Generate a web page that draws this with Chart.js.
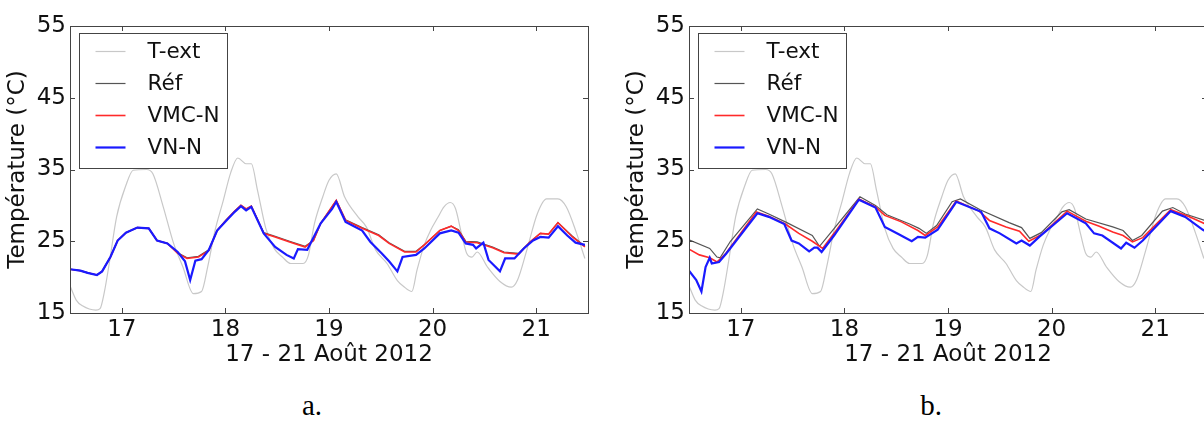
<!DOCTYPE html>
<html>
<head>
<meta charset="utf-8">
<script src="https://cdn.jsdelivr.net/npm/chart.js@4.4.0/dist/chart.umd.min.js"></script>
<style>
  html, body { margin: 0; padding: 0; background: #fff; overflow: hidden; }
  body { width: 1204px; height: 422px; position: relative; }
  .panel { position: absolute; top: 0; width: 600px; height: 370px; }
  .tag { position: absolute; top: 391px; width: 40px; text-align: center;
         font-family: "Liberation Serif", "DejaVu Serif", serif; font-size: 29px; line-height: 28px; color: #000; }
</style>
</head>
<body>
<div class="panel" style="left:0px"><canvas id="chartA" width="600" height="370"></canvas></div>
<div class="panel" style="left:619px"><canvas id="chartB" width="600" height="370"></canvas></div>
<div class="tag" style="left:292px">a.</div>
<div class="tag" style="left:911px">b.</div>
<script>
// axes
const xTicks = [17, 18, 19, 20, 21];
const yTicks = [15, 25, 35, 45, 55];

// outdoor temperature (same in both panels)
const extDays = [16.5, 16.56, 16.62, 16.75, 16.79, 16.83, 16.88, 16.95, 17.04, 17.11, 17.24, 17.3, 17.4, 17.5, 17.59, 17.69, 17.77, 17.83, 17.9, 17.98, 18.05, 18.12, 18.2, 18.25, 18.31, 18.39, 18.47, 18.55, 18.63, 18.75, 18.8, 18.86, 18.94, 19.0, 19.07, 19.15, 19.28, 19.36, 19.45, 19.56, 19.66, 19.72, 19.8, 19.85, 19.92, 19.98, 20.05, 20.11, 20.17, 20.22, 20.28, 20.33, 20.38, 20.43, 20.53, 20.65, 20.76, 20.82, 20.91, 21.01, 21.1, 21.21, 21.29, 21.39, 21.47];
const extTemps = [18.8, 16.8, 16.0, 15.4, 15.6, 17.8, 22.0, 28.4, 32.8, 34.9, 35.0, 34.4, 29.8, 24.7, 21.4, 17.7, 18.0, 21.5, 26.5, 30.7, 34.5, 36.6, 35.8, 35.8, 32.1, 26.8, 24.0, 22.8, 21.9, 21.9, 23.0, 27.5, 31.2, 33.5, 34.4, 31.2, 28.4, 27.0, 23.8, 21.9, 19.5, 18.7, 18.0, 21.0, 24.5, 26.5, 28.3, 29.8, 30.4, 29.6, 26.0, 23.3, 22.8, 23.5, 21.4, 19.4, 18.6, 19.6, 23.8, 28.8, 30.9, 30.9, 29.8, 26.1, 22.6];

// panel a
const refDaysA = [16.5, 16.6, 16.67, 16.76, 16.81, 16.89, 16.96, 17.04, 17.15, 17.26, 17.34, 17.44, 17.54, 17.63, 17.74, 17.84, 17.92, 18.01, 18.09, 18.15, 18.2, 18.25, 18.37, 18.48, 18.62, 18.77, 18.85, 18.92, 19.07, 19.16, 19.32, 19.48, 19.58, 19.73, 19.84, 19.92, 20.07, 20.18, 20.25, 20.32, 20.43, 20.58, 20.69, 20.83, 20.94, 21.04, 21.12, 21.21, 21.35, 21.47];
const refTempsA = [21.1, 20.9, 20.6, 20.3, 20.8, 22.8, 25.1, 26.2, 26.9, 26.8, 25.1, 24.7, 23.4, 22.7, 22.9, 23.8, 26.5, 28.0, 29.2, 30.0, 29.5, 29.9, 26.2, 25.7, 25.0, 24.3, 25.1, 27.5, 30.7, 28.0, 26.9, 25.9, 24.8, 23.6, 23.6, 24.5, 26.5, 27.1, 26.6, 25.0, 24.9, 24.2, 23.5, 23.3, 24.9, 26.1, 26.0, 27.6, 25.7, 24.3];
const vmcDaysA = [16.5, 16.6, 16.67, 16.76, 16.81, 16.89, 16.96, 17.04, 17.15, 17.26, 17.34, 17.44, 17.54, 17.63, 17.74, 17.84, 17.92, 18.01, 18.09, 18.15, 18.2, 18.25, 18.37, 18.48, 18.62, 18.77, 18.85, 18.92, 19.07, 19.16, 19.32, 19.48, 19.58, 19.73, 19.84, 19.92, 20.07, 20.18, 20.25, 20.32, 20.43, 20.58, 20.69, 20.83, 20.94, 21.04, 21.12, 21.21, 21.35, 21.47];
const vmcTempsA = [21.1, 20.9, 20.6, 20.3, 20.8, 22.8, 25.1, 26.2, 26.9, 26.8, 25.1, 24.7, 23.3, 22.6, 22.8, 23.7, 26.5, 28.0, 29.2, 30.0, 29.5, 29.9, 26.1, 25.6, 24.9, 24.2, 25.1, 27.5, 30.7, 27.9, 26.8, 25.8, 24.7, 23.5, 23.5, 24.5, 26.5, 27.1, 26.5, 24.9, 24.8, 24.1, 23.4, 23.2, 24.9, 26.1, 26.0, 27.6, 25.6, 24.2];
const vnDaysA = [16.5, 16.6, 16.67, 16.76, 16.81, 16.89, 16.96, 17.04, 17.15, 17.26, 17.34, 17.44, 17.54, 17.61, 17.66, 17.71, 17.77, 17.84, 17.92, 18.01, 18.09, 18.15, 18.2, 18.25, 18.37, 18.48, 18.59, 18.66, 18.7, 18.79, 18.92, 19.03, 19.07, 19.16, 19.32, 19.4, 19.51, 19.58, 19.66, 19.71, 19.84, 19.92, 20.07, 20.18, 20.25, 20.32, 20.39, 20.42, 20.49, 20.54, 20.65, 20.7, 20.79, 20.88, 20.97, 21.04, 21.12, 21.21, 21.3, 21.38, 21.47];
const vnTempsA = [21.1, 20.9, 20.6, 20.3, 20.8, 22.8, 25.1, 26.2, 26.9, 26.8, 25.1, 24.7, 23.5, 22.2, 19.6, 22.3, 22.5, 23.8, 26.5, 27.9, 29.1, 29.9, 29.3, 29.8, 26.1, 24.2, 23.1, 22.6, 23.9, 23.8, 27.5, 29.5, 30.5, 27.7, 26.5, 24.9, 23.3, 22.2, 20.8, 22.8, 23.1, 24.0, 26.1, 26.5, 26.2, 24.7, 24.5, 24.0, 24.8, 22.4, 20.8, 22.6, 22.6, 24.0, 25.1, 25.6, 25.5, 27.1, 25.8, 24.8, 24.5];

// panel b
const refDaysB = [16.5, 16.7, 16.77, 16.8, 16.9, 17.16, 17.27, 17.43, 17.69, 17.76, 17.89, 18.15, 18.3, 18.41, 18.63, 18.72, 18.79, 18.89, 19.04, 19.12, 19.31, 19.59, 19.71, 19.79, 19.9, 20.1, 20.17, 20.33, 20.59, 20.69, 20.78, 20.87, 21.07, 21.17, 21.29, 21.5];
const refTempsB = [25.2, 24.0, 22.8, 22.7, 25.0, 29.5, 28.8, 27.7, 25.8, 24.3, 26.6, 31.2, 30.0, 28.7, 27.4, 26.8, 26.1, 27.2, 30.5, 30.9, 29.4, 27.6, 26.9, 25.4, 26.2, 29.1, 29.4, 28.1, 27.0, 26.5, 25.1, 25.8, 29.2, 29.7, 28.8, 27.8];
const vmcDaysB = [16.5, 16.6, 16.7, 16.77, 16.85, 17.15, 17.27, 17.43, 17.56, 17.69, 17.79, 17.9, 18.14, 18.3, 18.39, 18.55, 18.71, 18.78, 18.9, 19.08, 19.3, 19.4, 19.56, 19.69, 19.78, 19.9, 20.15, 20.33, 20.46, 20.59, 20.69, 20.78, 20.88, 21.15, 21.33, 21.5];
const vmcTempsB = [23.9, 23.1, 22.7, 22.1, 23.2, 29.1, 28.5, 27.4, 26.1, 25.0, 24.0, 26.1, 30.9, 29.8, 28.6, 27.7, 26.5, 25.8, 27.0, 30.6, 29.2, 27.9, 27.0, 26.4, 25.0, 25.9, 29.2, 27.8, 27.1, 26.3, 25.8, 24.9, 25.5, 29.4, 28.4, 27.3];
const vnDaysB = [16.5, 16.57, 16.62, 16.66, 16.7, 16.72, 16.79, 16.86, 17.16, 17.27, 17.42, 17.49, 17.56, 17.66, 17.71, 17.74, 17.78, 17.9, 18.14, 18.3, 18.39, 18.52, 18.65, 18.71, 18.78, 18.9, 19.08, 19.32, 19.4, 19.5, 19.66, 19.71, 19.79, 19.88, 20.15, 20.33, 20.41, 20.49, 20.67, 20.72, 20.8, 20.88, 21.15, 21.29, 21.46, 21.5];
const vnTempsB = [20.9, 19.6, 18.0, 21.4, 22.7, 21.9, 22.1, 23.3, 28.9, 28.4, 27.4, 25.1, 24.7, 23.6, 24.1, 24.1, 23.5, 25.8, 30.8, 29.7, 27.0, 26.0, 25.0, 25.6, 25.5, 26.6, 30.5, 29.1, 26.8, 26.1, 24.7, 25.1, 24.4, 25.6, 28.9, 27.5, 26.1, 25.8, 24.0, 24.8, 24.1, 25.1, 29.2, 28.4, 26.6, 26.3];

const FONT = "'DejaVu Sans', sans-serif";

function pts(days, temps) {
  return days.map((d, i) => ({ x: d, y: temps[i] }));
}

// frame, inward ticks and legend box drawn on top of the plot
const framePlugin = {
  id: "frame",
  afterDatasetsDraw(chart) {
    const { ctx, chartArea: a, scales } = chart;
    ctx.save();
    ctx.strokeStyle = "#444";
    ctx.lineWidth = 1;
    ctx.beginPath();
    xTicks.forEach(v => {
      const px = Math.round(scales.x.getPixelForValue(v)) + 0.5;
      ctx.moveTo(px, a.bottom); ctx.lineTo(px, a.bottom - 5);
      ctx.moveTo(px, a.top); ctx.lineTo(px, a.top + 5);
    });
    yTicks.forEach(v => {
      const py = Math.round(scales.y.getPixelForValue(v)) + 0.5;
      ctx.moveTo(a.left, py); ctx.lineTo(a.left + 5, py);
      ctx.moveTo(a.right, py); ctx.lineTo(a.right - 5, py);
    });
    ctx.stroke();
    ctx.strokeRect(Math.round(a.left) + 0.5, Math.round(a.top) + 0.5, Math.round(a.right - a.left), Math.round(a.bottom - a.top));

    // legend
    const bx = Math.round(a.left) + 9.5, by = Math.round(a.top) + 7.5;
    ctx.fillStyle = "#fff";
    ctx.fillRect(bx, by, 148, 135);
    ctx.strokeStyle = "#444";
    ctx.strokeRect(bx, by, 148, 135);
    ctx.font = "21.5px " + FONT;
    ctx.textBaseline = "middle";
    chart.data.datasets.forEach((ds, i) => {
      const y = by + 18 + i * 32;
      ctx.strokeStyle = ds.borderColor;
      ctx.lineWidth = ds.borderWidth;
      ctx.beginPath();
      ctx.moveTo(bx + 16, y); ctx.lineTo(bx + 46, y);
      ctx.stroke();
      ctx.fillStyle = "#111";
      ctx.fillText(ds.label, bx + 68, y + 1);
    });
    ctx.restore();
  }
};

function makeChart(id, ref, vmc, vn) {
  return new Chart(document.getElementById(id), {
    type: "line",
    data: {
      datasets: [
        { label: "T-ext", data: pts(extDays, extTemps), borderColor: "#c8c8c8", borderWidth: 1.2, order: 4, cubicInterpolationMode: "monotone" },
        { label: "Réf", data: ref, borderColor: "#555555", borderWidth: 1.2, order: 3 },
        { label: "VMC-N", data: vmc, borderColor: "#ff2a2a", borderWidth: 1.6, order: 2 },
        { label: "VN-N", data: vn, borderColor: "#1a1aff", borderWidth: 2.2, order: 1 }
      ]
    },
    options: {
      responsive: false,
      animation: false,
      events: [],
      elements: { point: { radius: 0 }, line: { tension: 0, fill: false } },
      layout: { padding: { top: 26, right: 12, bottom: 0, left: 0 } },
      plugins: { legend: { display: false }, tooltip: { enabled: false } },
      scales: {
        x: {
          type: "linear", min: 16.5, max: 21.5,
          afterBuildTicks: s => { s.ticks = xTicks.map(v => ({ value: v })); },
          afterFit: s => { s.height = 57; },
          grid: { display: false, drawTicks: false },
          border: { display: false },
          ticks: { padding: 3, color: "#111", font: { family: FONT, size: 23 }, maxRotation: 0 },
          title: { display: true, text: "17 - 21 Août 2012", color: "#111", font: { family: FONT, size: 23 }, padding: { top: 0, bottom: 1 } }
        },
        y: {
          min: 15, max: 55,
          afterBuildTicks: s => { s.ticks = yTicks.map(v => ({ value: v })); },
          afterFit: s => { s.width = 70; },
          grid: { display: false, drawTicks: false },
          border: { display: false },
          ticks: { padding: 4, color: "#111", font: { family: FONT, size: 23 } },
          title: { display: true, text: "Température (°C)", color: "#111", font: { family: FONT, size: 23 }, padding: { top: 4, bottom: 0 } }
        }
      }
    },
    plugins: [framePlugin]
  });
}

makeChart("chartA", pts(refDaysA, refTempsA), pts(vmcDaysA, vmcTempsA), pts(vnDaysA, vnTempsA));
makeChart("chartB", pts(refDaysB, refTempsB), pts(vmcDaysB, vmcTempsB), pts(vnDaysB, vnTempsB));
</script>
</body>
</html>
